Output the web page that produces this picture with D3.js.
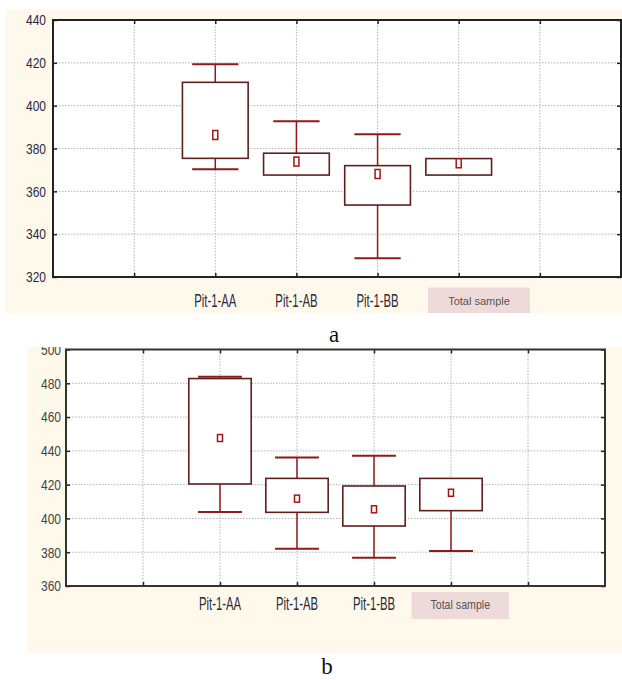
<!DOCTYPE html>
<html>
<head>
<meta charset="utf-8">
<script src="https://cdn.jsdelivr.net/npm/d3@7"></script>
<style>
  body { margin: 0; background: #fff; }
  svg { display: block; }
</style>
</head>
<body>
<div class="container"></div>
<script>
// group names, shared by both panels
var categories = ['Pit-1-AA', 'Pit-1-AB', 'Pit-1-BB', 'Total sample'];

// panel a
var meanA      = [386.3, 373.9, 368.1, 373.1];
var boxLowA    = [375.4, 367.6, 353.6, 367.6];
var boxHighA   = [410.9, 377.8, 372.0, 375.3];
var whiskLowA  = [370.3, 367.6, 328.7, 367.6];
var whiskHighA = [419.3, 392.7, 386.6, 375.3];
var ticksA     = [320, 340, 360, 380, 400, 420, 440];

// panel b
var meanB      = [447.6, 411.7, 405.4, 415.2];
var boxLowB    = [420.4, 403.6, 395.5, 404.6];
var boxHighB   = [482.8, 423.7, 419.2, 423.7];
var whiskLowB  = [403.8, 382.1, 376.7, 380.7];
var whiskHighB = [483.8, 436.0, 437.1, 423.7];
var ticksB     = [360, 380, 400, 420, 440, 460, 480, 500];

const WIDTH = 622;
const HEIGHT = 680;
const CREAM = '#fff9ec';
const BOX_COLOR = '#5e1f1f';
const WHISKER_COLOR = '#8e1b1b';
const MEAN_COLOR = '#a31515';

var translate = function (x, y) {
  return 'translate(' + x + ',' + y + ')';
};

var svg = d3.select('.container').append('svg')
    .attr('width', WIDTH)
    .attr('height', HEIGHT);

var drawPanel = function (p) {
  var g = svg.append('g');

  var clipId = 'clip-' + p.name;
  svg.append('clipPath').attr('id', clipId)
    .append('rect')
    .attr('x', p.bg[0]).attr('y', p.bg[1])
    .attr('width', p.bg[2]).attr('height', p.bg[3]);
  g.attr('clip-path', 'url(#' + clipId + ')');

  g.append('rect')
    .attr('x', p.bg[0]).attr('y', p.bg[1])
    .attr('width', p.bg[2]).attr('height', p.bg[3])
    .attr('fill', CREAM);

  var x = d3.scaleLinear().domain([0, 7]).range([p.left, p.right]);
  var y = d3.scaleLinear().domain([p.ticks[0], p.ticks[p.ticks.length - 1]])
      .range([p.bottom, p.top]);
  var step = x(1) - x(0);
  var catX = function (i) { return x(i + 2); };

  g.append('rect')
    .attr('x', p.left).attr('y', p.top)
    .attr('width', p.right - p.left).attr('height', p.bottom - p.top)
    .attr('fill', '#fff');

  // dotted grid
  g.append('g').selectAll('line')
    .data(p.ticks.slice(1, -1))
    .join('line')
    .attr('x1', p.left).attr('x2', p.right)
    .attr('y1', function (d) { return y(d); })
    .attr('y2', function (d) { return y(d); })
    .attr('stroke', '#b4b4b4')
    .attr('stroke-dasharray', '1.5,1.5');

  g.append('g').selectAll('line')
    .data(d3.range(1, 7))
    .join('line')
    .attr('x1', function (d) { return x(d); })
    .attr('x2', function (d) { return x(d); })
    .attr('y1', p.top).attr('y2', p.bottom)
    .attr('stroke', '#b4b4b4')
    .attr('stroke-dasharray', '1.5,1.5');

  // small inward ticks on all four sides
  var tickAxes = [
    [d3.axisLeft(y).tickValues(p.ticks), translate(p.left, 0)],
    [d3.axisRight(y).tickValues(p.ticks), translate(p.right, 0)],
    [d3.axisBottom(x).tickValues(d3.range(1, 7)), translate(0, p.bottom)],
    [d3.axisTop(x).tickValues(d3.range(1, 7)), translate(0, p.top)]
  ];
  tickAxes.forEach(function (a) {
    var ax = g.append('g')
      .attr('transform', a[1])
      .call(a[0].tickSize(-4).tickFormat(''));
    ax.select('.domain').remove();
    ax.selectAll('line').attr('stroke', '#222').attr('stroke-width', 1.5);
  });

  // frame
  g.append('rect')
    .attr('x', p.left).attr('y', p.top)
    .attr('width', p.right - p.left).attr('height', p.bottom - p.top)
    .attr('fill', 'none')
    .attr('stroke', p.frameColor)
    .attr('stroke-width', 2);

  // y labels
  var yAxis = g.append('g')
    .attr('transform', translate(p.left, 0))
    .call(d3.axisLeft(y).tickValues(p.ticks).tickSize(0).tickPadding(0));
  yAxis.select('.domain').remove();
  yAxis.selectAll('text')
    .attr('x', -p.labelGap / 0.8)
    .attr('transform', 'scale(0.8,1)')
    .attr('font-family', 'Liberation Sans, Arial, sans-serif')
    .attr('font-size', 15)
    .attr('fill', p.labelColor);

  // whiskers
  var boxes = g.append('g').selectAll('g')
    .data(categories)
    .join('g');

  boxes.append('line')
    .attr('x1', function (d, i) { return catX(i); })
    .attr('x2', function (d, i) { return catX(i); })
    .attr('y1', function (d, i) { return y(p.whiskHigh[i]); })
    .attr('y2', function (d, i) { return y(p.whiskLow[i]); })
    .attr('stroke', WHISKER_COLOR)
    .attr('stroke-width', 1.5);

  [p.whiskHigh, p.whiskLow].forEach(function (vals) {
    boxes.filter(function (d, i) {
      return vals[i] !== p.boxHigh[i] && vals[i] !== p.boxLow[i];
    })
      .append('line')
      .attr('x1', function (d) { return catX(categories.indexOf(d)) - step * 0.285; })
      .attr('x2', function (d) { return catX(categories.indexOf(d)) + step * 0.285; })
      .attr('y1', function (d) { return y(vals[categories.indexOf(d)]); })
      .attr('y2', function (d) { return y(vals[categories.indexOf(d)]); })
      .attr('stroke', WHISKER_COLOR)
      .attr('stroke-width', 2);
  });

  boxes.append('rect')
    .attr('x', function (d, i) { return catX(i) - step * 0.405; })
    .attr('width', step * 0.81)
    .attr('y', function (d, i) { return y(p.boxHigh[i]); })
    .attr('height', function (d, i) { return y(p.boxLow[i]) - y(p.boxHigh[i]); })
    .attr('fill', '#fff')
    .attr('stroke', BOX_COLOR)
    .attr('stroke-width', 1.6);

  boxes.append('rect')
    .attr('x', function (d, i) { return catX(i) - 2.5; })
    .attr('y', function (d, i) { return y(p.mean[i]) - p.markH / 2; })
    .attr('width', 5)
    .attr('height', p.markH)
    .attr('fill', '#fff')
    .attr('stroke', MEAN_COLOR)
    .attr('stroke-width', 1.5);

  // category labels
  categories.slice(0, 3).forEach(function (c, i) {
    g.append('text')
      .attr('transform', translate(catX(i), p.catBase) + ' scale(0.63,1)')
      .attr('text-anchor', 'middle')
      .attr('font-family', 'Liberation Sans, Arial, sans-serif')
      .attr('font-size', 18)
      .attr('fill', '#2b2b3a')
      .text(c);
  });

  var tb = p.totalBox;
  g.append('rect')
    .attr('x', tb[0]).attr('y', tb[1])
    .attr('width', tb[2]).attr('height', tb[3])
    .attr('fill', '#efdada');
  g.append('text')
    .attr('transform', translate(tb[0] + tb[2] / 2, p.totalBase) + ' scale(' + p.totalScale + ',1)')
    .attr('text-anchor', 'middle')
    .attr('font-family', 'Liberation Sans, Arial, sans-serif')
    .attr('font-size', p.totalSize)
    .attr('fill', '#555')
    .text(categories[3]);
};

drawPanel({
  name: 'a',
  bg: [5, 9, 617, 304],
  left: 53, right: 621, top: 20, bottom: 277,
  ticks: ticksA,
  mean: meanA, boxLow: boxLowA, boxHigh: boxHighA,
  whiskLow: whiskLowA, whiskHigh: whiskHighA,
  frameColor: '#222', labelColor: '#2a2a44', labelGap: 7,
  markH: 9, catBase: 307,
  totalBox: [428, 287.5, 102, 27.5], totalBase: 305, totalSize: 11, totalScale: 1
});

drawPanel({
  name: 'b',
  bg: [27, 347, 595, 306],
  left: 66, right: 605, top: 349.5, bottom: 586,
  ticks: ticksB,
  mean: meanB, boxLow: boxLowB, boxHigh: boxHighB,
  whiskLow: whiskLowB, whiskHigh: whiskHighB,
  frameColor: '#333', labelColor: '#444', labelGap: 5,
  markH: 7, catBase: 610,
  totalBox: [411.5, 592, 97.5, 27], totalBase: 609, totalSize: 12.5, totalScale: 0.85
});

// panel letters
[['a', 334, 342], ['b', 327, 674]].forEach(function (t) {
  svg.append('text')
    .attr('x', t[1]).attr('y', t[2])
    .attr('text-anchor', 'middle')
    .attr('font-family', 'Liberation Serif, Times New Roman, serif')
    .attr('font-size', 23)
    .attr('fill', '#111')
    .text(t[0]);
});
</script>
</body>
</html>
